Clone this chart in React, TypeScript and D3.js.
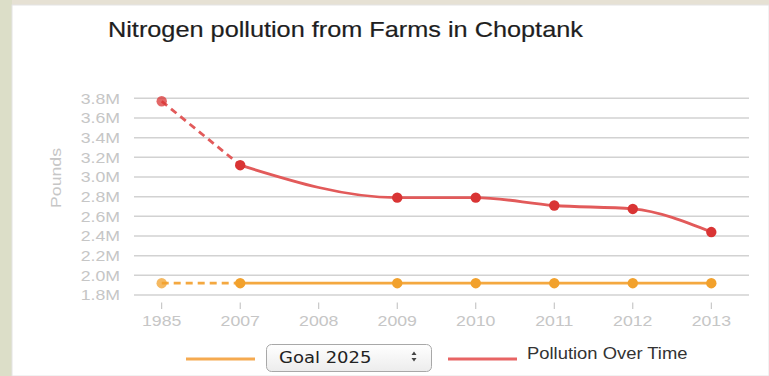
import React from "react";
import * as d3 from "d3";

const categories = ["1985", "2007", "2008", "2009", "2010", "2011", "2012", "2013"];
const pollution: (number | null)[] = [3.77, 3.12, null, 2.79, 2.79, 2.71, 2.675, 2.44];
const goal: (number | null)[] = [1.92, 1.92, null, 1.92, 1.92, 1.92, 1.92, 1.92];
const yTicks = [1.8, 2.0, 2.2, 2.4, 2.6, 2.8, 3.0, 3.2, 3.4, 3.6, 3.8];
const title = "Nitrogen pollution from Farms in Choptank";
const yTitle = "Pounds";
const goalLabel = "Goal 2025";
const seriesLabel = "Pollution Over Time";

const W = 769;
const H = 376;
const FONT = "'Liberation Sans', Arial, Helvetica, sans-serif";
const RED_LINE = "#e25a5a";
const RED_PT = "#d93434";
const ORANGE_LINE = "#f4a840";
const ORANGE_PT = "#f2a12c";

export default function App() {
  const x = d3.scalePoint<string>().domain(categories).range([161.7, 711.3]);
  const y = d3.scaleLinear().domain([1.8, 3.8]).range([295, 98.3]);

  type P = { c: string; v: number };
  const pts = (arr: (number | null)[]): P[] =>
    categories.map((c, i) => ({ c, v: arr[i] as number })).filter((d) => d.v != null);

  const redPts = pts(pollution);
  const orPts = pts(goal);

  const lineCurve = d3
    .line<P>()
    .x((d) => x(d.c)!)
    .y((d) => y(d.v))
    .curve(d3.curveMonotoneX);
  const lineStraight = d3
    .line<P>()
    .x((d) => x(d.c)!)
    .y((d) => y(d.v));

  const fmt = (v: number) => v.toFixed(1) + "M";
  const SX = 1.18;

  return (
    <div style={{ position: "fixed", left: 0, top: 0, width: W, height: H }}>
      <svg width={W} height={H} style={{ display: "block" }}>
        {/* background map strips */}
        <rect x={0} y={0} width={W} height={H} fill="#e6e1d4" />
        <rect x={0} y={0} width={12} height={H} fill="#dcdec8" />
        <rect x={12} y={5} width={W - 12} height={H - 5} fill="#ffffff" stroke="#e4e4e4" strokeWidth={1} />

        {/* title */}
        <g transform={`translate(108,37) scale(1.15,1)`}>
          <text fontFamily={FONT} fontSize={22} fill="#1e1e1e" stroke="#1e1e1e" strokeWidth={0.2}>
            {title}
          </text>
        </g>

        {/* gridlines */}
        {yTicks.map((t) => (
          <line key={t} x1={134} x2={749} y1={y(t)} y2={y(t)} stroke="#d2d2d2" strokeWidth={1.5} />
        ))}
        {/* y labels */}
        {yTicks.map((t) => (
          <g key={"l" + t} transform={`translate(120,${y(t) + 5.3}) scale(${SX},1)`}>
            <text fontFamily={FONT} fontSize={15} fill="#c6c6c6" textAnchor="end">
              {fmt(t)}
            </text>
          </g>
        ))}
        {/* y title */}
        <g transform={`translate(61,178) rotate(-90) scale(${SX},1)`}>
          <text fontFamily={FONT} fontSize={15} fill="#c6c6c6" textAnchor="middle">
            {yTitle}
          </text>
        </g>

        {/* x ticks and labels */}
        {categories.map((c) => (
          <g key={c}>
            <line x1={x(c)!} x2={x(c)!} y1={302.5} y2={309} stroke="#bdbdbd" strokeWidth={1} />
            <g transform={`translate(${x(c)},325.5) scale(${SX},1)`}>
              <text fontFamily={FONT} fontSize={15} fill="#c6c6c6" textAnchor="middle">
                {c}
              </text>
            </g>
          </g>
        ))}

        {/* goal series */}
        <path
          d={lineStraight(orPts.slice(0, 2))!}
          fill="none"
          stroke={ORANGE_LINE}
          strokeWidth={2.8}
          strokeDasharray="7,5"
        />
        <path d={lineStraight(orPts.slice(1))!} fill="none" stroke={ORANGE_LINE} strokeWidth={2.8} />
        {orPts.map((d, i) => (
          <circle key={"o" + d.c} cx={x(d.c)} cy={y(d.v)} r={5.2} fill={ORANGE_PT} opacity={i === 0 ? 0.75 : 1} />
        ))}

        {/* pollution series */}
        <path
          d={lineStraight(redPts.slice(0, 2))!}
          fill="none"
          stroke={RED_LINE}
          strokeWidth={2.8}
          strokeDasharray="7,5"
        />
        <path d={lineCurve(redPts.slice(1))!} fill="none" stroke={RED_LINE} strokeWidth={2.8} />
        {redPts.map((d, i) => (
          <circle key={"r" + d.c} cx={x(d.c)} cy={y(d.v)} r={5.2} fill={RED_PT} opacity={i === 0 ? 0.75 : 1} />
        ))}

        {/* legend */}
        <line x1={186} x2={255} y1={359} y2={359} stroke="#f5aa50" strokeWidth={3} />
        <defs>
          <linearGradient id="selg" x1="0" x2="0" y1="0" y2="1">
            <stop offset="0" stopColor="#ffffff" />
            <stop offset="1" stopColor="#ececec" />
          </linearGradient>
        </defs>
        <rect x={266.5} y={344.5} width={165} height={27} rx={5} fill="url(#selg)" stroke="#a8a8a8" strokeWidth={1} />
        <g transform={`translate(279,363) scale(1.2,1)`}>
          <text fontFamily="'DejaVu Sans', sans-serif" fontSize={15} fill="#222">
            {goalLabel}
          </text>
        </g>
        <path d="M411.5,355 L414,351.5 L416.5,355 Z" fill="#444" />
        <path d="M411.5,358 L414,361.5 L416.5,358 Z" fill="#444" />

        <line x1={448} x2={517} y1={359} y2={359} stroke="#e86464" strokeWidth={3} />
        <g transform={`translate(527,359) scale(1.15,1)`}>
          <text fontFamily={FONT} fontSize={16} fill="#333">
            {seriesLabel}
          </text>
        </g>
      </svg>
    </div>
  );
}
